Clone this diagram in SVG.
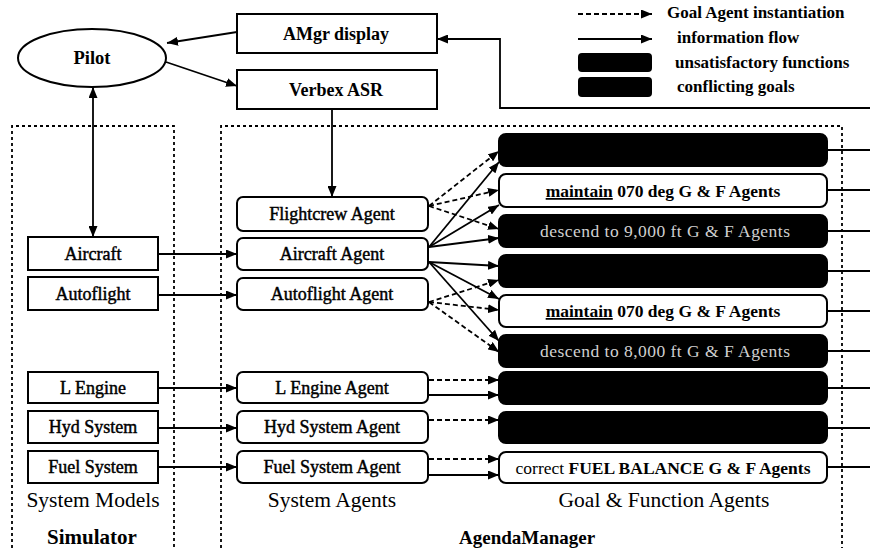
<svg xmlns="http://www.w3.org/2000/svg" width="870" height="548" viewBox="0 0 870 548">
<defs>
<marker id="ah" markerUnits="userSpaceOnUse" markerWidth="11" markerHeight="9" refX="11" refY="4.5" orient="auto-start-reverse"><path d="M0,0 L11,4.5 L0,9 z" fill="#000"/></marker>
</defs>
<style>
.box{fill:#fff;stroke:#000;stroke-width:2}
.blk{fill:#000;stroke:#000;stroke-width:2}
.t{font-family:"Liberation Serif","Times New Roman",serif;fill:#000}
.b{font-weight:bold}
.c{text-anchor:middle}
.bx{font-size:18px;stroke:#000;stroke-width:0.45}
.lb{font-size:21.5px}
.lg{font-size:17px;font-weight:bold}
.fa{font-size:17.5px;font-weight:bold}
.ln{fill:none;stroke:#000;stroke-width:1.8}
.ds{stroke-dasharray:5,3}
.cont{fill:none;stroke:#000;stroke-width:1.8;stroke-dasharray:3,3}
.gt{fill:#d0d0d0;font-size:17.5px}
</style>
<rect width="870" height="548" fill="#fff"/>

<g id="containers">
<path class="cont" d="M12,548 V126 H174 V548"/>
<path class="cont" d="M221,548 V126 H842 V548"/>
</g>

<g id="legend">
<line class="ln ds" x1="578" y1="14" x2="652" y2="14" marker-end="url(#ah)"/>
<text class="t lg" x="667" y="18">Goal Agent instantiation</text>
<line class="ln" x1="578" y1="39" x2="652" y2="39" marker-end="url(#ah)"/>
<text class="t lg" x="677" y="43">information flow</text>
<rect x="578" y="53" width="74" height="19" rx="4" fill="#000"/>
<text class="t lg" x="675" y="68">unsatisfactory functions</text>
<rect x="578" y="77" width="74" height="20" rx="4" fill="#000"/>
<text class="t lg" x="677" y="92">conflicting goals</text>
</g>

<g id="connectors">
<line class="ln" x1="237" y1="32" x2="167" y2="43" marker-end="url(#ah)"/>
<line class="ln" x1="166" y1="62" x2="237" y2="86" marker-end="url(#ah)"/>
<polyline class="ln" points="870,108 500,108 500,39 437,39" marker-end="url(#ah)"/>
<line class="ln" x1="93" y1="87" x2="93" y2="237" marker-start="url(#ah)" marker-end="url(#ah)"/>
<line class="ln" x1="332" y1="109" x2="332" y2="197" marker-end="url(#ah)"/>
<line class="ln" x1="158" y1="254" x2="237" y2="254" marker-end="url(#ah)"/>
<line class="ln" x1="158" y1="295" x2="237" y2="295" marker-end="url(#ah)"/>
<line class="ln" x1="158" y1="388" x2="237" y2="388" marker-end="url(#ah)"/>
<line class="ln" x1="158" y1="428" x2="237" y2="428" marker-end="url(#ah)"/>
<line class="ln" x1="158" y1="467" x2="237" y2="467" marker-end="url(#ah)"/>
<line class="ln ds" x1="429" y1="206" x2="499" y2="151" marker-end="url(#ah)"/>
<line class="ln ds" x1="429" y1="206" x2="499" y2="190" marker-end="url(#ah)"/>
<line class="ln ds" x1="429" y1="206" x2="499" y2="229" marker-end="url(#ah)"/>
<line class="ln" x1="429" y1="247" x2="499" y2="162" marker-end="url(#ah)"/>
<line class="ln" x1="429" y1="247" x2="499" y2="205" marker-end="url(#ah)"/>
<line class="ln" x1="429" y1="247" x2="499" y2="238" marker-end="url(#ah)"/>
<line class="ln" x1="429" y1="262" x2="499" y2="266" marker-end="url(#ah)"/>
<line class="ln" x1="429" y1="262" x2="499" y2="299" marker-end="url(#ah)"/>
<line class="ln" x1="429" y1="262" x2="499" y2="341" marker-end="url(#ah)"/>
<line class="ln ds" x1="429" y1="302" x2="499" y2="280" marker-end="url(#ah)"/>
<line class="ln ds" x1="429" y1="302" x2="499" y2="310" marker-end="url(#ah)"/>
<line class="ln ds" x1="429" y1="302" x2="499" y2="352" marker-end="url(#ah)"/>
<line class="ln ds" x1="429" y1="380" x2="499" y2="380" marker-end="url(#ah)"/>
<line class="ln" x1="429" y1="395" x2="499" y2="395" marker-end="url(#ah)"/>
<line class="ln ds" x1="429" y1="420" x2="499" y2="420" marker-end="url(#ah)"/>
<line class="ln ds" x1="429" y1="459" x2="499" y2="459" marker-end="url(#ah)"/>
<line class="ln" x1="429" y1="475" x2="499" y2="475" marker-end="url(#ah)"/>
<line class="ln" x1="827" y1="150" x2="870" y2="150"/>
<line class="ln" x1="827" y1="190" x2="870" y2="190"/>
<line class="ln" x1="827" y1="231" x2="870" y2="231"/>
<line class="ln" x1="827" y1="271" x2="870" y2="271"/>
<line class="ln" x1="827" y1="311" x2="870" y2="311"/>
<line class="ln" x1="827" y1="351" x2="870" y2="351"/>
<line class="ln" x1="827" y1="388" x2="870" y2="388"/>
<line class="ln" x1="827" y1="428" x2="870" y2="428"/>
<line class="ln" x1="827" y1="467" x2="870" y2="467"/>
</g>

<g id="pilot"><ellipse class="box" cx="92" cy="58" rx="74" ry="29"/><text class="t b c" x="92" y="64" font-size="18.5">Pilot</text></g>
<g id="amgr"><rect class="box" x="237" y="14" width="200" height="39"/><text class="t b c" x="336" y="40" font-size="18">AMgr display</text></g>
<g id="verbex"><rect class="box" x="237" y="70" width="200" height="39"/><text class="t b c" x="336" y="96" font-size="18">Verbex ASR</text></g>

<g id="aircraft"><rect class="box" x="28" y="237" width="130" height="33"/><text class="t bx c" x="93" y="260">Aircraft</text></g>
<g id="autoflight"><rect class="box" x="28" y="277" width="130" height="33"/><text class="t bx c" x="93" y="300">Autoflight</text></g>
<g id="lengine"><rect class="box" x="28" y="372" width="130" height="31"/><text class="t bx c" x="93" y="394">L Engine</text></g>
<g id="hyd"><rect class="box" x="28" y="411" width="130" height="32"/><text class="t bx c" x="93" y="433">Hyd System</text></g>
<g id="fuel"><rect class="box" x="28" y="451" width="130" height="32"/><text class="t bx c" x="93" y="473">Fuel System</text></g>

<g id="flightcrew-agent"><rect class="box" x="237" y="197" width="191" height="34" rx="6"/><text class="t bx c" x="332" y="220">Flightcrew Agent</text></g>
<g id="aircraft-agent"><rect class="box" x="237" y="238" width="191" height="32" rx="6"/><text class="t bx c" x="332" y="260">Aircraft Agent</text></g>
<g id="autoflight-agent"><rect class="box" x="237" y="278" width="191" height="32" rx="6"/><text class="t bx c" x="332" y="300">Autoflight Agent</text></g>
<g id="lengine-agent"><rect class="box" x="237" y="372" width="191" height="31" rx="6"/><text class="t bx c" x="332" y="394">L Engine Agent</text></g>
<g id="hyd-agent"><rect class="box" x="237" y="411" width="191" height="32" rx="6"/><text class="t bx c" x="332" y="433">Hyd System Agent</text></g>
<g id="fuel-agent"><rect class="box" x="237" y="451" width="191" height="32" rx="6"/><text class="t bx c" x="332" y="473">Fuel System Agent</text></g>

<g id="goal1"><rect class="blk" x="499" y="134" width="328" height="32" rx="7"/></g>
<g id="goal2"><rect class="box" x="499" y="174" width="328" height="33" rx="7"/><text class="t fa c" x="663" y="197"><tspan text-decoration="underline">maintain</tspan> 070 deg G &amp; F Agents</text></g>
<g id="goal3"><rect class="blk" x="499" y="215" width="328" height="32" rx="7"/><text class="t gt c" x="665" y="237" textLength="250" lengthAdjust="spacing">descend to 9,000 ft G &amp; F Agents</text></g>
<g id="goal4"><rect class="blk" x="499" y="255" width="328" height="32" rx="7"/></g>
<g id="goal5"><rect class="box" x="499" y="295" width="328" height="32" rx="7"/><text class="t fa c" x="663" y="317"><tspan text-decoration="underline">maintain</tspan> 070 deg G &amp; F Agents</text></g>
<g id="goal6"><rect class="blk" x="499" y="335" width="328" height="32" rx="7"/><text class="t gt c" x="665" y="357" textLength="250" lengthAdjust="spacing">descend to 8,000 ft G &amp; F Agents</text></g>
<g id="goal7"><rect class="blk" x="499" y="372" width="328" height="32" rx="7"/></g>
<g id="goal8"><rect class="blk" x="499" y="412" width="328" height="31" rx="7"/></g>
<g id="goal9"><rect class="box" x="499" y="452" width="328" height="31" rx="7"/><text class="t c" x="663" y="474" font-size="17.5"><tspan>correct</tspan> <tspan font-weight="bold">FUEL BALANCE G &amp; F Agents</tspan></text></g>

<g id="labels">
<text class="t lb c" x="93" y="507">System Models</text>
<text class="t b c" x="92" y="544" font-size="21">Simulator</text>
<text class="t lb c" x="332" y="507">System Agents</text>
<text class="t lb c" x="664" y="507">Goal &amp; Function Agents</text>
<text class="t b" x="459" y="544" font-size="19">AgendaManager</text>
</g>
</svg>
